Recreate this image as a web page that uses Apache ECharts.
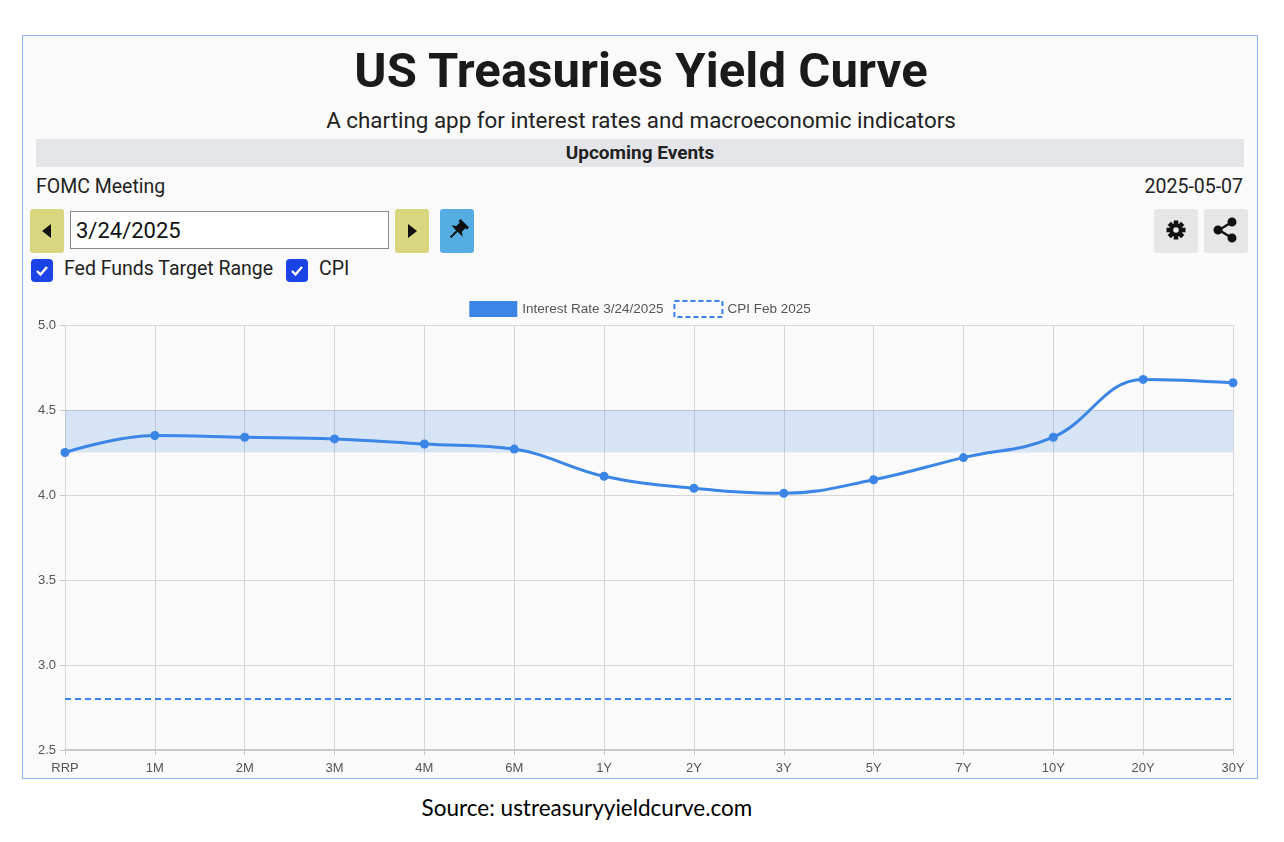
<!DOCTYPE html>
<html>
<head>
<meta charset="utf-8">
<script src="https://cdn.jsdelivr.net/npm/echarts@6/dist/echarts.min.js"></script>
<style>
  body { margin: 0; width: 1284px; height: 842px; background: #fff; font-family: Roboto, sans-serif; position: relative; overflow: hidden; }
  .frame { position: absolute; left: 22px; top: 35px; width: 1234px; height: 742px; border: 1px solid #8eb3ea; background: #fafafa; }
  .abs { position: absolute; }
  .title { left: 0; width: 1236px; top: 6px; text-align: center; font-size: 49px; font-weight: 700; color: #1a1a1a; letter-spacing: 0.1px; }
  .sub { left: 0; width: 1236px; top: 71px; text-align: center; font-size: 22.4px; color: #222; }
  .bar { left: 13px; top: 103px; width: 1208px; height: 28px; background: #e4e5e8; text-align: center; line-height: 28px; font-size: 19px; font-weight: 700; color: #222; }
  .evt { top: 139px; font-size: 19.5px; color: #222; }
  .btn { width: 34px; height: 44px; top: 173px; border-radius: 3px; background: #d8d67e; }
  .input { left: 47px; top: 175px; height: 38px; border: 1px solid #8a8a8a; background: #fff; font-size: 22px; line-height: 38px; padding-left: 5px; box-sizing: border-box; width: 319px; color: #111; }
  .gbtn { width: 44px; height: 44px; top: 173px; border-radius: 3px; background: #e6e6e6; }
  .chk { width: 22px; height: 23px; top: 223px; border-radius: 4px; background: #1b44e6; }
  .lbl { top: 221px; font-size: 19.5px; color: #222; }
  .src { left: 0; width: 1174px; top: 794px; text-align: center; font-family: Lato, "Open Sans", sans-serif; font-size: 22.5px; color: #000; }
  svg { position: absolute; left: 0; top: 0; }
</style>
</head>
<body>
<div class="frame">
  <div class="abs title">US Treasuries Yield Curve</div>
  <div class="abs sub">A charting app for interest rates and macroeconomic indicators</div>
  <div class="abs bar">Upcoming Events</div>
  <div class="abs evt" style="left:13px">FOMC Meeting</div>
  <div class="abs evt" style="right:14px">2025-05-07</div>

  <div class="abs btn" style="left:7px"><svg width="34" height="44"><polygon points="21,15 21,29 12,22" fill="#111"/></svg></div>
  <div class="abs input">3/24/2025</div>
  <div class="abs btn" style="left:372px"><svg width="34" height="44"><polygon points="13,15 13,29 22,22" fill="#111"/></svg></div>
  <div class="abs btn" style="left:417px;background:#55ade2"><svg width="34" height="44"><g transform="translate(17,22) rotate(45)"><rect x="-4" y="-9" width="8" height="9" fill="#111"/><rect x="-6" y="-11" width="12" height="3" fill="#111"/><polygon points="-8,0 8,0 4,-3 -4,-3" fill="#111"/><rect x="-1" y="0" width="2" height="9" fill="#111"/></g></svg></div>

  <div class="abs gbtn" style="left:1131px"><svg width="44" height="44"><g transform="translate(22,21)" fill="#111"><circle r="6.5"/><g id="t"><rect x="-2.3" y="-9.5" width="4.6" height="5"/></g><use href="#t" transform="rotate(45)"/><use href="#t" transform="rotate(90)"/><use href="#t" transform="rotate(135)"/><use href="#t" transform="rotate(180)"/><use href="#t" transform="rotate(225)"/><use href="#t" transform="rotate(270)"/><use href="#t" transform="rotate(315)"/><circle r="2.8" fill="#e6e6e6"/></g></svg></div>
  <div class="abs gbtn" style="left:1181px"><svg width="44" height="44"><g stroke="#111" stroke-width="2.4" fill="#111"><line x1="28" y1="13" x2="15" y2="21"/><line x1="28" y1="29" x2="15" y2="21"/><circle cx="28" cy="13" r="3.3"/><circle cx="28" cy="29" r="3.3"/><circle cx="14" cy="21" r="3.3"/></g></svg></div>

  <div class="abs chk" style="left:8px"><svg width="22" height="23"><polyline points="6,12 9.5,15.5 16,8" fill="none" stroke="#fff" stroke-width="2.4"/></svg></div>
  <div class="abs lbl" style="left:41px">Fed Funds Target Range</div>
  <div class="abs chk" style="left:263px"><svg width="22" height="23"><polyline points="6,12 9.5,15.5 16,8" fill="none" stroke="#fff" stroke-width="2.4"/></svg></div>
  <div class="abs lbl" style="left:296px">CPI</div>

  <div id="chart" class="abs" style="left:0;top:254px;width:1234px;height:488px"></div>
</div>
<div class="abs src">Source: ustreasuryyieldcurve.com</div>

<script>
// 期限
const maturities = ['RRP', '1M', '2M', '3M', '4M', '6M', '1Y', '2Y', '3Y', '5Y', '7Y', '10Y', '20Y', '30Y'];
// 3/24/2025 收益率
const yields = [4.25, 4.35, 4.34, 4.33, 4.30, 4.27, 4.11, 4.04, 4.01, 4.09, 4.22, 4.34, 4.68, 4.66];
// 联邦基金目标区间
const fedLow = 4.25;
const fedHigh = 4.5;
// CPI
const cpi = 2.8;
const rateName = 'Interest Rate 3/24/2025';
const cpiName = 'CPI Feb 2025';

const blue = '#3a85e6';
const myChart = echarts.init(document.getElementById('chart'));
myChart.setOption({
    animation: false,
    legend: {
        top: 5,
        left: 'center',
        itemWidth: 48,
        itemHeight: 16,
        itemGap: 10,
        textStyle: { fontFamily: 'Liberation Sans, Arial', fontSize: 13.5, color: '#555' },
        data: [
            { name: rateName, icon: 'rect', itemStyle: { color: blue, borderWidth: 0 } },
            { name: cpiName, icon: 'rect', itemStyle: { color: 'rgba(0,0,0,0)', borderColor: blue, borderWidth: 2, borderType: [5, 3] } }
        ]
    },
    grid: { left: 42, right: 24, top: 35, bottom: 28, containLabel: false },
    xAxis: {
        type: 'category',
        data: maturities,
        boundaryGap: false,
        axisLine: { lineStyle: { color: '#c8c8c8', width: 2 } },
        axisTick: { show: true, length: 5, lineStyle: { color: '#c8c8c8' } },
        axisLabel: { color: '#555', fontFamily: 'Liberation Sans, Arial', fontSize: 13, margin: 12 },
        splitLine: { show: true, lineStyle: { color: '#d6d6d6' } }
    },
    yAxis: {
        type: 'value',
        min: 2.5,
        max: 5,
        interval: 0.5,
        axisLine: { show: true, lineStyle: { color: '#d6d6d6' } },
        axisTick: { show: true, length: 5, lineStyle: { color: '#c8c8c8' } },
        axisLabel: { color: '#555', fontFamily: 'Liberation Sans, Arial', fontSize: 13, margin: 9, formatter: v => v.toFixed(1) },
        splitLine: { lineStyle: { color: '#d6d6d6' } }
    },
    series: [
        {
            name: rateName,
            type: 'line',
            data: yields,
            smooth: 0.4,
            symbol: 'circle',
            symbolSize: 9,
            lineStyle: { color: blue, width: 3 },
            itemStyle: { color: blue },
            z: 5,
            markArea: {
                silent: true,
                itemStyle: { color: 'rgba(54,128,230,0.18)' },
                data: [[{ yAxis: fedLow }, { yAxis: fedHigh }]]
            }
        },
        {
            name: cpiName,
            type: 'line',
            data: [],
            itemStyle: { color: blue },
            markLine: {
                silent: true,
                symbol: 'none',
                label: { show: false },
                lineStyle: { color: blue, width: 2, type: [6, 4] },
                data: [{ yAxis: cpi }]
            }
        }
    ]
});
</script>
</body>
</html>
